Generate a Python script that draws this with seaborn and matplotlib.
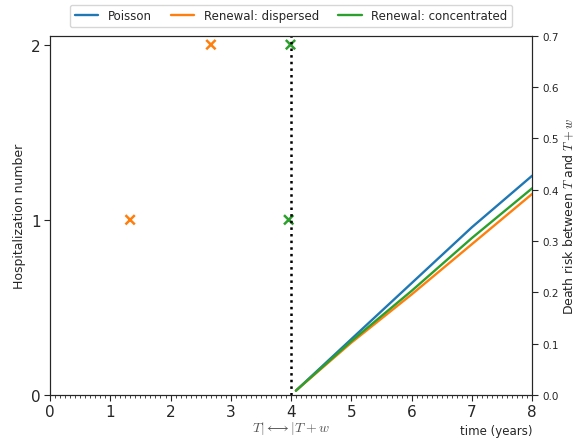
import numpy as np
import pandas as pd
import seaborn as sns
import matplotlib.pyplot as plt
from matplotlib.ticker import MultipleLocator

# ── Data ──────────────────────────────────────────────────────────────────────
T = 4.0
risk_time = [4.08, 5.0, 6.0, 7.0, 8.0]
risk_poisson = [0.0084, 0.109, 0.218, 0.327, 0.4275]
risk_dispersed = [0.0084, 0.102, 0.196, 0.294, 0.392]
risk_concentrated = [0.0084, 0.105, 0.203, 0.306, 0.403]
series_names = ["Poisson", "Renewal: dispersed", "Renewal: concentrated"]

hosp_dispersed_t = [1.33, 2.67]
hosp_concentrated_t = [3.96, 3.99]
hosp_number = [1, 2]

# ── Long form tables ──────────────────────────────────────────────────────────
risk = pd.DataFrame({
    "time": risk_time * 3,
    "risk": risk_poisson + risk_dispersed + risk_concentrated,
    "model": np.repeat(series_names, len(risk_time)),
})
hosp = pd.DataFrame({
    "time": hosp_dispersed_t + hosp_concentrated_t,
    "number": hosp_number + hosp_number,
    "model": ["Renewal: dispersed"] * 2 + ["Renewal: concentrated"] * 2,
})

palette = dict(zip(series_names, sns.color_palette("tab10", 3)))

sns.set_style("ticks")
plt.rcParams["mathtext.fontset"] = "cm"

fig = plt.figure(figsize=(5.81, 4.39), dpi=100)
ax = fig.add_axes([0.086, 0.098, 0.83, 0.818])
ax2 = ax.twinx()

sns.scatterplot(data=hosp, x="time", y="number", hue="model", palette=palette,
                marker="x", s=45, linewidth=1.8, legend=False, ax=ax, zorder=3)
ax.axvline(T, color="k", ls=":", lw=1.8, zorder=4)

sns.lineplot(data=risk, x="time", y="risk", hue="model", palette=palette,
             linewidth=1.7, ax=ax2)

ax.set_xlim(0, 8)
ax.set_ylim(0, 2.05)
ax.set_yticks([0, 1, 2])
ax.xaxis.set_minor_locator(MultipleLocator(1 / 12))
ax.tick_params(axis="both", which="major", labelsize=11, length=4, pad=2.5)
ax.tick_params(axis="x", which="minor", length=2)
ax.set_ylabel("Hospitalization number", fontsize=9)
ax.set_xlabel(r"$T| \longleftrightarrow |T+w$", fontsize=10, color="#555555",
              labelpad=0)

ax2.set_ylim(0, 0.7)
ax2.set_yticks(np.arange(0, 0.71, 0.1))
ax2.tick_params(axis="y", labelsize=7.5, length=4)
ax2.set_ylabel(r"Death risk between $T$ and $T+w$", fontsize=9, labelpad=2)
ax2.set_xlabel("")

ax.text(1.0, -0.1, "time (years)", transform=ax.transAxes, ha="right",
        va="center", fontsize=8.5)

handles, labels = ax2.get_legend_handles_labels()
ax2.legend(handles, labels, loc="lower center", bbox_to_anchor=(0.5, 1.015),
           ncol=3, fontsize=8.5, frameon=True, borderaxespad=0.3,
           handlelength=2.0, columnspacing=1.6, handletextpad=0.8)

fig.savefig("out.png", dpi=100)
